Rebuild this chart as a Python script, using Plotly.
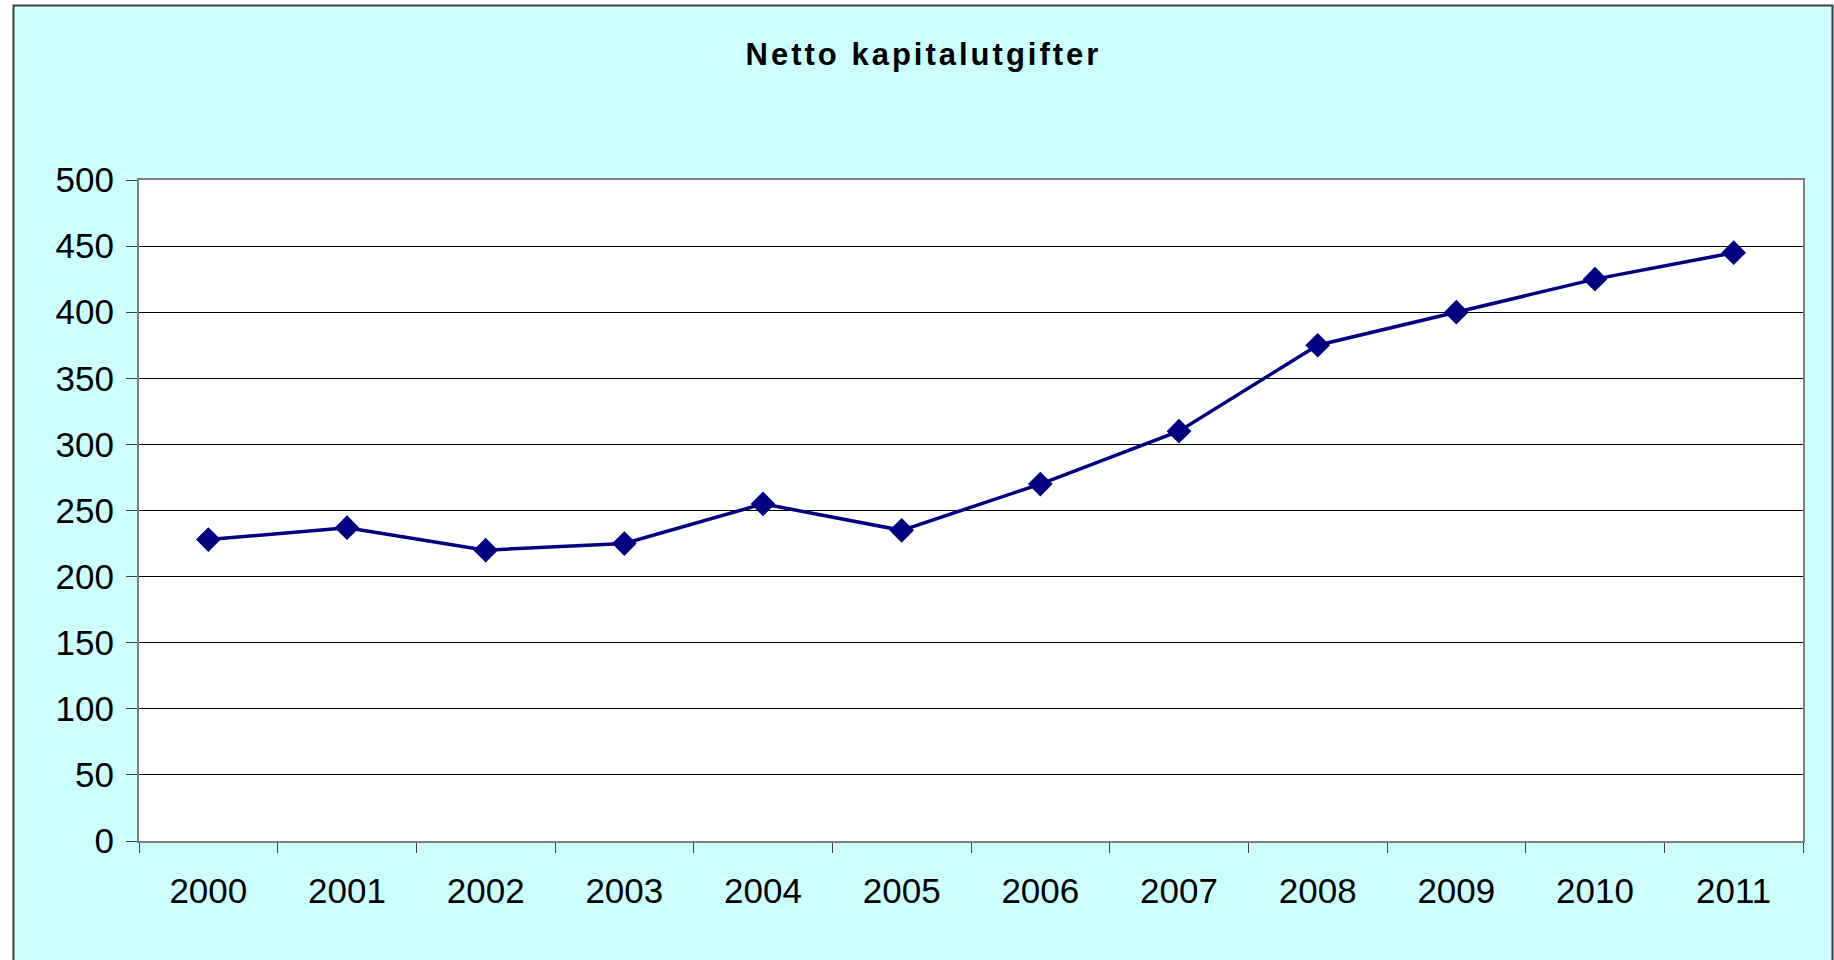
import plotly.graph_objects as go

# ---- data ----
years = ["2000", "2001", "2002", "2003", "2004", "2005",
         "2006", "2007", "2008", "2009", "2010", "2011"]
values = [228, 237, 220, 225, 255, 235, 270, 310, 375, 400, 425, 445]
y_ticks = [0, 50, 100, 150, 200, 250, 300, 350, 400, 450, 500]
title_text = "Netto kapitalutgifter"

W, H = 1834, 960
L, R, T, B = 139, 31, 180, 119
pw, ph = W - L - R, H - T - B


def px_x(x):
    return (x - L) / pw


def px_y(y):
    return (H - B - y) / ph


FONT = "Liberation Sans, Arial, sans-serif"
CYAN = "#CCFFFF"

fig = go.Figure()
fig.add_trace(go.Scatter(
    x=years, y=values, mode="lines+markers",
    line=dict(color="#000080", width=3.5),
    marker=dict(symbol="diamond", size=19, color="#000080"),
    showlegend=False, hoverinfo="x+y",
))

shapes = [
    # white strips outside the chart frame
    dict(type="rect", xref="paper", yref="paper", layer="below",
         x0=px_x(-5), x1=px_x(13), y0=px_y(H + 5), y1=px_y(-5),
         fillcolor="white", line=dict(width=0)),
    dict(type="rect", xref="paper", yref="paper", layer="below",
         x0=px_x(-5), x1=px_x(W + 5), y0=px_y(5), y1=px_y(-5),
         fillcolor="white", line=dict(width=0)),
    # outer frame
    dict(type="path", xref="paper", yref="paper", layer="below",
         path=f"M {px_x(13.5)} {px_y(H + 5)} L {px_x(13.5)} {px_y(5.5)} "
              f"L {px_x(1832.5)} {px_y(5.5)} L {px_x(1832.5)} {px_y(H + 5)}",
         line=dict(color="#404040", width=2)),
]

fig.update_layout(
    width=W, height=H,
    margin=dict(l=L, r=R, t=T, b=B, pad=0),
    paper_bgcolor=CYAN, plot_bgcolor="white",
    font=dict(family=FONT, color="black", size=35),
    title=dict(
        text=f'<span style="letter-spacing:3px">{title_text}</span>',
        x=923.5 / W, xref="container", xanchor="center",
        y=1 - 54 / H, yref="container", yanchor="middle",
        font=dict(family=FONT, size=31, color="black", weight="bold"),
    ),
    shapes=shapes,
    xaxis=dict(
        type="category", range=[-0.5, len(years) - 0.5],
        tickson="boundaries", ticks="outside", ticklen=10, tickwidth=1,
        tickcolor="#404040", showgrid=False, zeroline=False,
        showline=True, linecolor="#808080", linewidth=2, mirror=True,
        tickfont=dict(family=FONT, size=35, color="black"),
        ticklabelstandoff=18,
    ),
    yaxis=dict(
        range=[0, 500], tickvals=y_ticks, ticktext=[str(v) for v in y_ticks],
        ticks="outside", ticklen=11, tickwidth=1, tickcolor="#404040",
        showgrid=True, gridcolor="black", gridwidth=1, zeroline=False,
        showline=True, linecolor="#808080", linewidth=2, mirror=True,
        tickfont=dict(family=FONT, size=35, color="black"),
        ticklabelstandoff=5,
    ),
)

fig.write_html(
    "out.html",
    config={"displayModeBar": False},
    post_script="document.body.style.margin='0';"
                "document.body.style.overflow='hidden';",
)
